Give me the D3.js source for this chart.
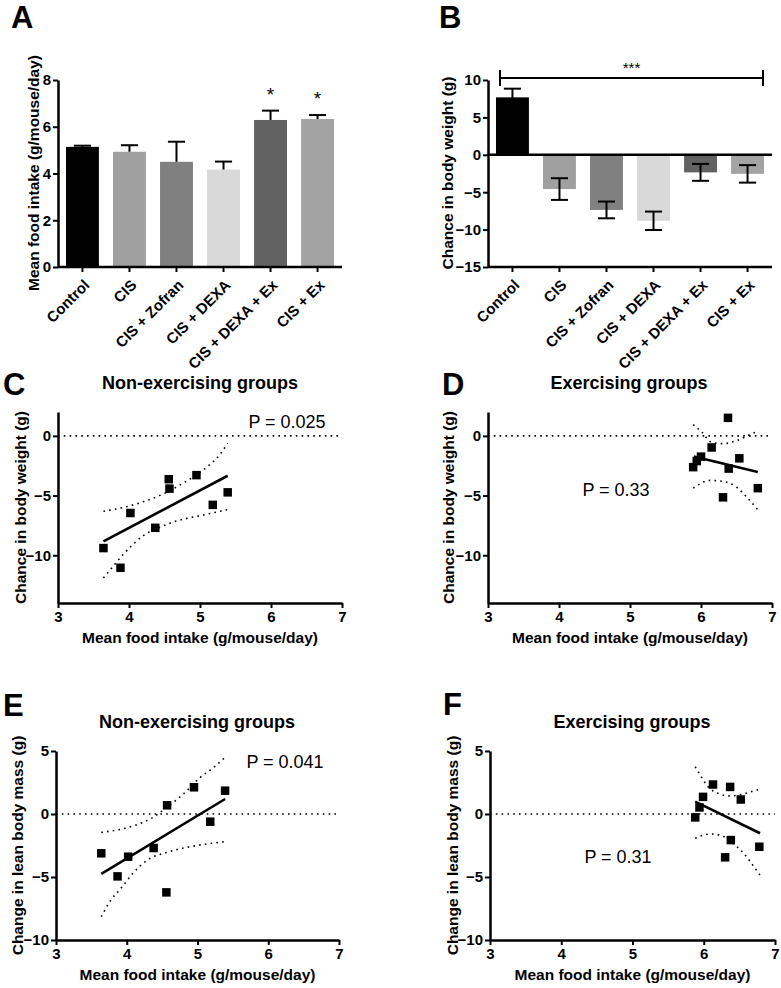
<!DOCTYPE html>
<html><head><meta charset="utf-8">
<script src="https://cdn.jsdelivr.net/npm/d3@7"></script>
<style>
body{margin:0;background:#fff;}
svg{display:block;font-family:"Liberation Sans",Arial,sans-serif;}
</style></head>
<body><svg id="c" width="781" height="988"></svg>
<script>
// ---------- DATA ----------
const groups = ["Control","CIS","CIS + Zofran","CIS + DEXA","CIS + DEXA + Ex","CIS + Ex"];
const barColors = ["#000000","#a0a0a0","#808080","#d9d9d9","#626262","#a3a3a3"];
const intakeMean = [5.14,4.93,4.50,4.17,6.29,6.33];
const intakeSem  = [0.05,0.28,0.86,0.34,0.40,0.17];
const intakeStars = ["","","","","*","*"];
const weightMean = [7.68,-4.58,-7.37,-8.82,-2.35,-2.55];
const weightSem  = [1.16,1.45,1.12,1.23,1.13,1.17];
const intakeTicks = [0,2,4,6,8];
const weightTicks = [10,5,0,-5,-10,-15];

// C: non-exercising, body weight
const cX = [3.64,3.88,4.02,4.37,4.56,4.57,4.95,5.18,5.39];
const cY = [-9.40,-11.05,-6.46,-7.70,-3.63,-4.42,-3.29,-5.78,-4.73];
const cFitX = [3.64,5.39], cFitY = [-8.84,-3.34];
const cUpX = [3.64,3.92,4.20,4.48,4.76,5.05,5.28,5.39];
const cUpY = [-6.32,-6.00,-5.52,-4.87,-3.97,-2.83,-1.56,-0.62];
const cLoX = [3.64,3.78,3.92,4.06,4.20,4.39,4.62,4.86,5.09,5.39];
const cLoY = [-11.9,-10.9,-9.92,-9.07,-8.36,-7.79,-7.22,-6.86,-6.57,-6.18];

// D: exercising, body weight
const dX = [5.89,5.94,6.00,6.15,6.38,6.39,6.54,6.31,6.80];
const dY = [-2.62,-2.11,-1.74,-0.97,1.51,-2.74,-1.88,-5.15,-4.38];
const dFitX = [5.90,6.80], dFitY = [-1.72,-3.02];
const dUpX = [5.89,6.01,6.15,6.31,6.50,6.69,6.80];
const dUpY = [0.94,0.32,-0.54,-0.65,-0.40,0.10,0.40];
const dLoX = [5.89,6.13,6.31,6.50,6.64,6.80];
const dLoY = [-4.38,-3.73,-3.82,-4.30,-5.10,-6.20];

// E: non-exercising, lean mass
const eX = [3.64,3.87,4.02,4.38,4.57,4.56,4.95,5.18,5.39];
const eY = [-3.12,-4.95,-3.39,-2.70,0.69,-6.22,2.12,-0.61,1.85];
const eFitX = [3.64,5.39], eFitY = [-4.76,1.19];
const eUpX = [3.64,4.10,4.33,4.57,4.80,5.04,5.23,5.39];
const eUpY = [-1.46,-0.93,-0.40,0.53,1.59,2.91,3.70,4.50];
const eLoX = [3.64,3.77,3.91,4.10,4.28,4.57,4.85,5.13,5.39];
const eLoY = [-8.15,-6.88,-5.95,-4.63,-3.70,-3.04,-2.65,-2.38,-2.20];

// F: exercising, lean mass
const fX = [6.13,6.37,5.99,6.52,5.94,5.88,6.38,6.78,6.30];
const fY = [2.34,2.15,1.36,1.15,0.52,-0.27,-2.07,-2.60,-3.44];
const fFitX = [5.88,6.79], fFitY = [0.98,-1.53];
const fUpX = [5.88,5.95,6.06,6.20,6.37,6.56,6.74,6.79];
const fUpY = [3.75,3.10,2.17,1.64,1.43,1.59,1.90,1.95];
const fLoX = [5.88,6.09,6.23,6.41,6.56,6.72,6.79];
const fLoY = [-1.93,-1.59,-1.67,-2.33,-3.12,-4.31,-4.85];

const xTicks = [3,4,5,6,7];
const bwTicks = [0,-5,-10];
const leanTicks = [5,0,-5,-10];

// ---------- DRAWING ----------
const svg = d3.select("#c");
const AX = 2.5;

function styleAxis(g){
  g.select(".domain").attr("stroke","#000").attr("stroke-width",AX);
  g.selectAll(".tick line").attr("stroke","#000").attr("stroke-width",2);
  g.selectAll(".tick text").attr("font-size",15).attr("font-weight","bold").attr("fill","#000")
    .attr("font-family","'Liberation Sans',Arial,sans-serif");
}
function letter(t,x,y){
  svg.append("text").attr("x",x).attr("y",y).text(t).attr("font-size",31).attr("font-weight","bold");
}
function yLabel(t,x,yc){
  svg.append("text").attr("transform",`translate(${x},${yc}) rotate(-90)`).attr("text-anchor","middle")
    .attr("font-size",15.5).attr("font-weight","bold").text(t);
}

function barPanel(o){
  const x = d3.scaleBand().domain(groups).range(o.xr).paddingInner(0.3).paddingOuter(0.17);
  const y = d3.scaleLinear().domain(o.yd).range(o.yr);
  const g = svg.append("g");
  groups.forEach((k,i)=>{
    const v = o.mean[i];
    g.append("rect").attr("x",x(k)).attr("width",x.bandwidth())
      .attr("y",y(Math.max(0,v))).attr("height",Math.abs(y(v)-y(0))).attr("fill",barColors[i]);
  });
  groups.forEach((k,i)=>{
    const cx = x(k)+x.bandwidth()/2, v=o.mean[i], s=o.sem[i];
    const lo = o.both ? v-s : v, hi = v+s;
    const cw = x.bandwidth()*0.26;
    g.append("line").attr("x1",cx).attr("x2",cx).attr("y1",y(lo)).attr("y2",y(hi)).attr("stroke","#000").attr("stroke-width",2);
    g.append("line").attr("x1",cx-cw).attr("x2",cx+cw).attr("y1",y(hi)).attr("y2",y(hi)).attr("stroke","#000").attr("stroke-width",2);
    if(o.both) g.append("line").attr("x1",cx-cw).attr("x2",cx+cw).attr("y1",y(lo)).attr("y2",y(lo)).attr("stroke","#000").attr("stroke-width",2);
    if(o.stars && o.stars[i]) g.append("text").attr("x",cx).attr("y",y(hi)-10).attr("text-anchor","middle")
      .attr("font-size",19).text(o.stars[i]);
  });
  if(o.zeroLine) g.append("line").attr("x1",o.xr[0]).attr("x2",o.xr[1]).attr("y1",y(0)).attr("y2",y(0)).attr("stroke","#000").attr("stroke-width",AX);
  const ya = svg.append("g").attr("transform",`translate(${o.xr[0]},0)`)
    .call(d3.axisLeft(y).tickValues(o.ticks).tickSize(5).tickSizeOuter(0).tickPadding(2));
  styleAxis(ya);
  const xa = svg.append("g").attr("transform",`translate(0,${o.yr[0]})`)
    .call(d3.axisBottom(x).tickSize(5).tickSizeOuter(0));
  styleAxis(xa);
  xa.select(".domain").attr("d",`M${o.xr[0]},0H${o.xr[1]}`);
  xa.selectAll(".tick text").attr("text-anchor","end").attr("dy",0)
    .attr("transform","translate(8,19) rotate(-45)").attr("y",0).attr("x",0).attr("font-size",15);
  return {x,y};
}

// Panel A
letter("A",11,28);
barPanel({xr:[58,342],yr:[267,80],yd:[0,8],mean:intakeMean,sem:intakeSem,ticks:intakeTicks,both:false,stars:intakeStars});
yLabel("Mean food intake (g/mouse/day)",39,173);

// Panel B
letter("B",439,28);
const pb = barPanel({xr:[488,772],yr:[267,80],yd:[-15,10],mean:weightMean,sem:weightSem,ticks:weightTicks,both:true,zeroLine:true});
yLabel("Chance in body weight (g)",453,173);
const bx1 = pb.x(groups[0])+4, bx2 = pb.x(groups[5])+pb.x.bandwidth()-1;
svg.append("line").attr("x1",bx1).attr("x2",bx2).attr("y1",78).attr("y2",78).attr("stroke","#000").attr("stroke-width",2);
[bx1,bx2].forEach(v=>svg.append("line").attr("x1",v).attr("x2",v).attr("y1",70).attr("y2",86).attr("stroke","#000").attr("stroke-width",2));
svg.append("text").attr("x",(bx1+bx2)/2).attr("y",73).attr("text-anchor","middle").attr("font-size",15).text("***");

function scatterPanel(o){
  const x = d3.scaleLinear().domain([3,7]).range(o.xr);
  const y = d3.scaleLinear().domain(o.yd).range(o.yr);
  const g = svg.append("g");
  g.append("line").attr("x1",o.xr[0]).attr("x2",o.xr[1]).attr("y1",y(0)).attr("y2",y(0))
    .attr("stroke","#000").attr("stroke-width",1.6).attr("stroke-dasharray","1.6,4.2");
  const ln = d3.line().x(d=>x(d[0])).y(d=>y(d[1])).curve(d3.curveMonotoneX);
  [[o.upX,o.upY],[o.loX,o.loY]].forEach(([xs,ys])=>{
    g.append("path").attr("d",ln(xs.map((v,i)=>[v,ys[i]]))).attr("fill","none")
      .attr("stroke","#000").attr("stroke-width",1.6).attr("stroke-dasharray","1.6,4.2");
  });
  g.append("path").attr("d",d3.line().x(d=>x(d[0])).y(d=>y(d[1]))(o.fitX.map((v,i)=>[v,o.fitY[i]])))
    .attr("stroke","#000").attr("stroke-width",2.6).attr("fill","none");
  const s = 8.5;
  o.px.forEach((v,i)=>{
    g.append("rect").attr("x",x(v)-s/2).attr("y",y(o.py[i])-s/2).attr("width",s).attr("height",s).attr("fill","#000");
  });
  const ya = svg.append("g").attr("transform",`translate(${o.xr[0]},0)`)
    .call(d3.axisLeft(y).tickValues(o.yt).tickSize(5).tickSizeOuter(0).tickPadding(2));
  styleAxis(ya);
  const xa = svg.append("g").attr("transform",`translate(0,${o.yr[0]})`)
    .call(d3.axisBottom(x).tickValues(xTicks).tickSize(5).tickSizeOuter(0).tickFormat(d3.format("d")).tickPadding(3));
  styleAxis(xa);
  svg.append("text").attr("x",o.titleX).attr("y",o.titleY).attr("text-anchor","middle")
    .attr("font-size",18).attr("font-weight","bold").text(o.title);
  svg.append("text").attr("x",o.pX).attr("y",o.pY).attr("text-anchor","middle").attr("font-size",18).text(o.p);
  svg.append("text").attr("x",(o.xr[0]+o.xr[1])/2).attr("y",o.yr[0]+40).attr("text-anchor","middle")
    .attr("font-size",15.5).attr("font-weight","bold").text("Mean food intake (g/mouse/day)");
  yLabel(o.ylab,o.ylX,(o.yr[0]+o.yr[1])/2);
}

letter("C",3,395);
scatterPanel({xr:[58,342],yr:[603,412],yd:[-14,2],yt:bwTicks,px:cX,py:cY,fitX:cFitX,fitY:cFitY,
  upX:cUpX,upY:cUpY,loX:cLoX,loY:cLoY,title:"Non-exercising groups",titleX:200,titleY:389,
  p:"P = 0.025",pX:287,pY:428,ylab:"Chance in body weight (g)",ylX:26});

letter("D",442,395);
scatterPanel({xr:[488,772],yr:[603,412],yd:[-14,2],yt:bwTicks,px:dX,py:dY,fitX:dFitX,fitY:dFitY,
  upX:dUpX,upY:dUpY,loX:dLoX,loY:dLoY,title:"Exercising groups",titleX:629,titleY:389,
  p:"P = 0.33",pX:616,pY:496,ylab:"Chance in body weight (g)",ylX:454});

letter("E",3,716);
scatterPanel({xr:[56,339],yr:[940,751],yd:[-10,5],yt:leanTicks,px:eX,py:eY,fitX:eFitX,fitY:eFitY,
  upX:eUpX,upY:eUpY,loX:eLoX,loY:eLoY,title:"Non-exercising groups",titleX:197,titleY:728,
  p:"P = 0.041",pX:285,pY:768,ylab:"Change in lean body mass (g)",ylX:23});

letter("F",443,715);
scatterPanel({xr:[490,775],yr:[940,751],yd:[-10,5],yt:leanTicks,px:fX,py:fY,fitX:fFitX,fitY:fFitY,
  upX:fUpX,upY:fUpY,loX:fLoX,loY:fLoY,title:"Exercising groups",titleX:632,titleY:728,
  p:"P = 0.31",pX:618,pY:863,ylab:"Change in lean body mass (g)",ylX:458});
</script></body></html>
